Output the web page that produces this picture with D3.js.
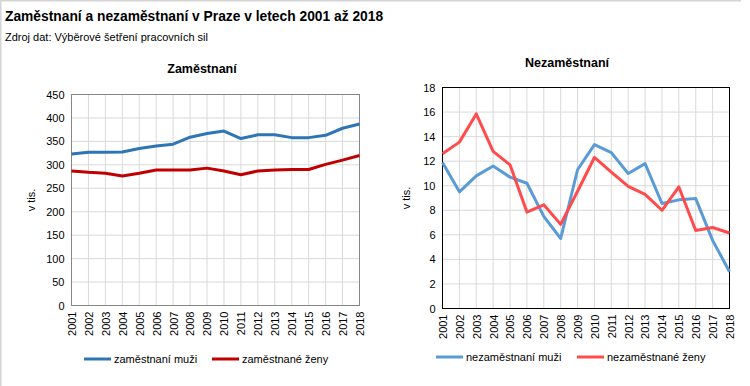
<!DOCTYPE html>
<html>
<head>
<meta charset="utf-8">
<script src="https://cdn.jsdelivr.net/npm/d3@7"></script>
<style>
  body { margin: 0; background: #fff; }
  svg { display: block; font-family: "Liberation Sans", Arial, sans-serif; }
</style>
</head>
<body>
<svg id="viz" width="750" height="386"></svg>
<script>
'use strict';

var years = [2001, 2002, 2003, 2004, 2005, 2006, 2007, 2008, 2009,
             2010, 2011, 2012, 2013, 2014, 2015, 2016, 2017, 2018];

var zamestnaniMuzi = [323, 327, 327, 327.5, 335, 340, 344, 359, 367,
                      372, 356, 364, 364, 358, 358, 363, 378, 387];
var zamestnaneZeny = [287, 284, 282, 276, 282, 289, 289, 289, 293,
                      287, 279, 287, 289, 290, 290, 301, 310, 320];

var nezamestnaniMuzi = [11.9, 9.5, 10.8, 11.6, 10.7, 10.2, 7.5, 5.7, 11.3,
                        13.35, 12.7, 11.0, 11.8, 8.55, 8.85, 8.95, 5.55, 3.0];
var nezamestnaneZeny = [12.6, 13.55, 15.85, 12.8, 11.7, 7.85, 8.45, 6.85, 9.55,
                        12.3, 11.1, 9.95, 9.3, 8.0, 9.9, 6.35, 6.6, 6.15];

var leftTicks = [0, 50, 100, 150, 200, 250, 300, 350, 400, 450];
var rightTicks = [0, 2, 4, 6, 8, 10, 12, 14, 16, 18];

var svg = d3.select("#viz");

// outer frame (only top and left edges are visible)
svg.append("line").attr("x1", 0).attr("x2", 741).attr("y1", 0.5).attr("y2", 0.5)
    .style("stroke", "#d4d4d4").style("stroke-width", 2);
svg.append("line").attr("x1", 0.5).attr("x2", 0.5).attr("y1", 0).attr("y2", 386)
    .style("stroke", "#d4d4d4").style("stroke-width", 2);

svg.append("text").attr("x", 5).attr("y", 21)
    .style("font-size", "13.8px").style("font-weight", "bold")
    .text("Zaměstnaní a nezaměstnaní v Praze v letech 2001 až 2018");
svg.append("text").attr("x", 5).attr("y", 41)
    .style("font-size", "11px")
    .text("Zdroj dat: Výběrové šetření pracovních sil");

function drawChart(opt) {
    var g = svg.append("g");
    var x = d3.scaleLinear().domain([years[0], years[years.length - 1]])
        .range([opt.left, opt.right]);
    var y = d3.scaleLinear().domain(opt.domain).range([opt.bottom, opt.top]);

    // grid
    g.selectAll(".vgrid").data(years).enter().append("line")
        .attr("x1", function(d) { return x(d); })
        .attr("x2", function(d) { return x(d); })
        .attr("y1", opt.top).attr("y2", opt.bottom)
        .style("stroke", "#d9d9d9").style("stroke-width", 1);
    g.selectAll(".hgrid").data(opt.ticks).enter().append("line")
        .attr("x1", opt.left).attr("x2", opt.right)
        .attr("y1", function(d) { return y(d); })
        .attr("y2", function(d) { return y(d); })
        .style("stroke", "#d9d9d9").style("stroke-width", 1);

    g.append("rect")
        .attr("x", opt.left).attr("y", opt.top)
        .attr("width", opt.right - opt.left).attr("height", opt.bottom - opt.top)
        .style("fill", "none").style("stroke", opt.frame).style("stroke-width", 1);

    // y axis
    var ya = g.append("g").attr("transform", "translate(" + opt.left + ",0)")
        .call(d3.axisLeft(y).tickValues(opt.ticks).tickSize(0).tickPadding(7));
    ya.select(".domain").remove();
    ya.selectAll("text").style("font-size", "11px").style("fill", "#000")
        .style("font-family", "Liberation Sans, Arial, sans-serif");

    // x axis
    var xa = g.append("g").attr("transform", "translate(0," + opt.bottom + ")")
        .call(d3.axisBottom(x).tickValues(years).tickFormat(d3.format("d")).tickSize(0));
    xa.select(".domain").remove();
    xa.selectAll("text")
        .attr("transform", "rotate(-90)")
        .attr("x", -6).attr("y", 0).attr("dy", "0.35em")
        .style("text-anchor", "end")
        .style("font-size", "11px").style("fill", "#000")
        .style("font-family", "Liberation Sans, Arial, sans-serif");

    g.append("text")
        .attr("transform", "translate(" + opt.ylabX + "," + ((opt.top + opt.bottom) / 2) + ") rotate(-90)")
        .style("text-anchor", "middle").style("font-size", "11px")
        .text("v tis.");

    g.append("text").attr("x", opt.titleX).attr("y", opt.titleY)
        .style("text-anchor", "middle").style("font-size", "12.5px").style("font-weight", "bold")
        .text(opt.title);

    var line = d3.line()
        .x(function(d, i) { return x(years[i]); })
        .y(function(d) { return y(d); });

    opt.series.forEach(function(s) {
        g.append("path").datum(s.values).attr("d", line)
            .style("fill", "none").style("stroke", s.color)
            .style("stroke-width", 3).style("stroke-linejoin", "round");
    });

    opt.series.forEach(function(s) {
        g.append("line").attr("x1", s.lx).attr("x2", s.lx + 27)
            .attr("y1", opt.legY).attr("y2", opt.legY)
            .style("stroke", s.color).style("stroke-width", 3);
        g.append("text").attr("x", s.lx + 30).attr("y", opt.legY + 4)
            .style("font-size", "11px").text(s.name);
    });
}

drawChart({
    left: 71.5, right: 359.5, top: 94.5, bottom: 305.5,
    domain: [0, 450], ticks: leftTicks, frame: "#868686",
    ylabX: 35, title: "Zaměstnaní", titleX: 202, titleY: 73, legY: 359,
    series: [
        { name: "zaměstnaní muži", values: zamestnaniMuzi, color: "#2e75b6", lx: 84 },
        { name: "zaměstnané ženy", values: zamestnaneZeny, color: "#c00000", lx: 212 }
    ]
});

drawChart({
    left: 442.5, right: 729.5, top: 87.5, bottom: 308.5,
    domain: [0, 18], ticks: rightTicks, frame: "#000",
    ylabX: 410, title: "Nezaměstnaní", titleX: 567, titleY: 67, legY: 357,
    series: [
        { name: "nezaměstnaní muži", values: nezamestnaniMuzi, color: "#5b9bd5", lx: 436 },
        { name: "nezaměstnané ženy", values: nezamestnaneZeny, color: "#ff4b4b", lx: 577 }
    ]
});
</script>
</body>
</html>
